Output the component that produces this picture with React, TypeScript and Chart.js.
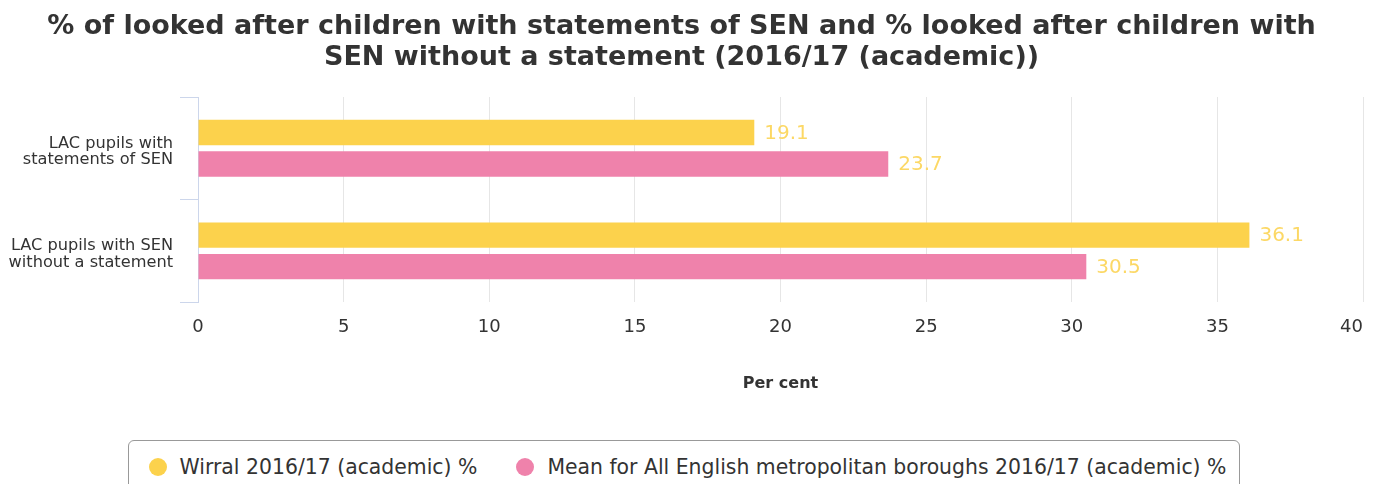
import React, { useEffect, useRef } from "react";
import { Chart, registerables } from "chart.js";

Chart.register(...registerables);

const categories: string[][] = [
  ["LAC pupils with", "statements of SEN"],
  ["LAC pupils with SEN", "without a statement"],
];
const wirralValues = [19.1, 36.1];
const meanValues = [23.7, 30.5];
const seriesNames = [
  "Wirral 2016/17 (academic) %",
  "Mean for All English metropolitan boroughs 2016/17 (academic) %",
];
const titleLines = [
  "% of looked after children with statements of SEN and % looked after children with",
  "SEN without a statement (2016/17 (academic))",
];
const xAxisTitle = "Per cent";

const YELLOW = "#fcd24c";
const PINK = "#ef82ab";
const LABEL_COLOR = "#fcd865";
const FONT = "'DejaVu Sans', sans-serif";

const dataLabels = {
  id: "dataLabels",
  afterDatasetsDraw(chart: any) {
    const ctx = chart.ctx;
    ctx.save();
    ctx.font = `20px ${FONT}`;
    ctx.fillStyle = LABEL_COLOR;
    ctx.textAlign = "left";
    ctx.textBaseline = "middle";
    chart.data.datasets.forEach((ds: any, i: number) => {
      const meta = chart.getDatasetMeta(i);
      meta.data.forEach((el: any, j: number) => {
        const v = ds.data[j] as number;
        ctx.fillText(v.toFixed(1), el.x + 10, el.y + 1);
      });
    });
    ctx.restore();
  },
};

// keep the last x tick label inside the canvas (right-aligned to its grid line)
const lastTickInside = {
  id: "lastTickInside",
  beforeDraw(chart: any) {
    const scale = chart.scales.x;
    if (!scale || !scale.getLabelItems) return;
    const items = scale.getLabelItems();
    if (!items.length) return;
    const last = items[items.length - 1];
    last.options = { ...last.options, textAlign: "right" };
  },
};

export default function App() {
  const ref = useRef<HTMLCanvasElement | null>(null);
  useEffect(() => {
    if (!ref.current) return;
    const chart = new Chart(ref.current, {
      type: "bar",
      data: {
        labels: categories as any,
        datasets: [
          {
            label: seriesNames[0],
            data: wirralValues,
            backgroundColor: YELLOW,
            barPercentage: 0.806,
            categoryPercentage: 0.614,
          },
          {
            label: seriesNames[1],
            data: meanValues,
            backgroundColor: PINK,
            barPercentage: 0.806,
            categoryPercentage: 0.614,
          },
        ],
      },
      options: {
        indexAxis: "y",
        animation: false,
        responsive: true,
        maintainAspectRatio: false,
        layout: { padding: { left: 0, right: 10, top: 0, bottom: 0 } },
        plugins: {
          legend: { display: false },
          tooltip: { enabled: false },
          title: {
            display: true,
            text: titleLines,
            color: "#333333",
            font: { family: FONT, size: 27, weight: "bold", lineHeight: 1.15 },
            padding: { top: 11.5, bottom: 23.4 },
          },
        },
        scales: {
          x: {
            min: 0,
            max: 40,
            ticks: {
              stepSize: 5,
              color: "#333333",
              font: { family: FONT, size: 18 },
              padding: 14,
            },
            grid: { color: "#e6e6e6", drawTicks: false },
            border: { display: false },
            title: {
              display: true,
              text: xAxisTitle,
              color: "#333333",
              font: { family: FONT, size: 16, weight: "bold" },
              padding: { top: 22, bottom: 47 },
            },
            afterFit(scale: any) {
              scale.paddingRight = 0;
              scale.paddingLeft = 0;
            },
          },
          y: {
            ticks: {
              color: "#333333",
              font: { family: FONT, size: 16.2, lineHeight: 1.04 },
              padding: 7,
              labelOffset: 3.5,
            },
            grid: {
              drawOnChartArea: false,
              color: "#ccd6eb",
              tickLength: 18,
              offset: true,
            },
            border: { display: true, color: "#ccd6eb" },
            afterFit(scale: any) {
              scale.width = 198;
            },
          },
        },
      },
      plugins: [dataLabels, lastTickInside],
    });
    return () => chart.destroy();
  }, []);

  return (
    <div
      style={{
        position: "relative",
        margin: -8,
        width: 1373,
        height: 492,
        overflow: "hidden",
        fontFamily: FONT,
      }}
    >
      <div style={{ position: "absolute", left: 0, top: 0, width: 1373, height: 440 }}>
        <canvas ref={ref} />
      </div>
      <div
        style={{
          position: "absolute",
          left: 128,
          top: 440,
          width: 1112,
          height: 54,
          boxSizing: "border-box",
          border: "1px solid #999999",
          borderRadius: 6,
          display: "flex",
          alignItems: "center",
          justifyContent: "center",
          paddingLeft: 7,
          fontSize: 20.4,
          color: "#333333",
        }}
      >
        {seriesNames.map((name, i) => (
          <div
            key={name}
            style={{ display: "flex", alignItems: "center", marginLeft: i === 0 ? 0 : 39 }}
          >
            <span
              style={{
                display: "inline-block",
                width: 18,
                height: 18,
                borderRadius: 9,
                background: i === 0 ? YELLOW : PINK,
                marginRight: 13,
              }}
            />
            <span>{name}</span>
          </div>
        ))}
      </div>
    </div>
  );
}
